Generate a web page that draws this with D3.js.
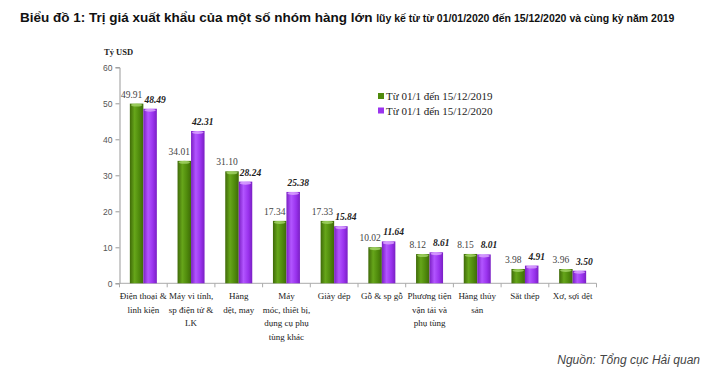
<!DOCTYPE html>
<html><head><meta charset="utf-8">
<script src="https://cdn.jsdelivr.net/npm/d3@7"></script>
<style>body{margin:0;background:#fff}svg{display:block}</style>
</head><body><svg id="c" width="708" height="386"></svg>
<script>
const categories = [
  ["Điện thoại &","linh kiện"],
  ["Máy vi tính,","sp điện tử &","LK"],
  ["Hàng","dệt, may"],
  ["Máy","móc, thiết bị,","dụng cụ phụ","tùng khác"],
  ["Giày dép"],
  ["Gỗ & sp gỗ"],
  ["Phương tiện","vận tải và","phụ tùng"],
  ["Hàng thủy","sản"],
  ["Sắt thép"],
  ["Xơ, sợi dệt"]
];
const values2019 = [49.91,34.01,31.10,17.34,17.33,10.02,8.12,8.15,3.98,3.96];
const values2020 = [48.49,42.31,28.24,25.38,15.84,11.64,8.61,8.01,4.91,3.50];
const seriesNames = ["Từ 01/1 đến 15/12/2019","Từ 01/1 đến 15/12/2020"];
const yTicks = [0,10,20,30,40,50,60];

const svg = d3.select("#c");
const defs = svg.append("defs");
function grad(id, dark, mid, light){
  const g = defs.append("linearGradient").attr("id",id).attr("x1","0").attr("x2","1").attr("y1","0").attr("y2","0");
  g.append("stop").attr("offset","0%").attr("stop-color",dark);
  g.append("stop").attr("offset","35%").attr("stop-color",light);
  g.append("stop").attr("offset","70%").attr("stop-color",mid);
  g.append("stop").attr("offset","100%").attr("stop-color",dark);
}
grad("gG","#3f6a08","#4f8a0c","#66a61a");
grad("gP","#7a1fc4","#9a33ee","#b255ff");

// title
const t = svg.append("text").attr("x",20).attr("y",22).attr("font-family","Liberation Sans, Arial, sans-serif").attr("font-weight","bold").attr("fill","#111");
t.append("tspan").attr("font-size","13.5px").text("Biểu đồ 1: Trị giá xuất khẩu của một số nhóm hàng lớn ");
t.append("tspan").attr("font-size","10.5px").text("lũy kế từ từ 01/01/2020 đến 15/12/2020 và cùng kỳ năm 2019");

svg.append("text").attr("x",700).attr("y",364).attr("text-anchor","end")
  .attr("font-family","Liberation Sans, Arial, sans-serif").attr("font-style","italic")
  .attr("font-size","12px").attr("fill","#444").text("Nguồn: Tổng cục Hải quan");

const x0 = 119.5, x1 = 596.5, yTop = 67.3, yBot = 283.3;
const x = d3.scaleBand().domain(d3.range(categories.length)).range([x0,x1]).paddingInner(0).paddingOuter(0);
const y = d3.scaleLinear().domain([0,60]).range([yBot,yTop]);
const bw = 13.5;

// y axis
const ya = svg.append("g").attr("transform",`translate(${x0},0)`)
  .call(d3.axisLeft(y).tickValues(yTicks).tickSize(4).tickPadding(3).tickFormat(d3.format("d")));
ya.select(".domain").attr("stroke","#999");
ya.selectAll(".tick line").attr("stroke","#999");
ya.selectAll("text").attr("font-family","Liberation Sans, Arial, sans-serif").attr("font-size","8.5px").attr("fill","#555");

// x axis
const xa = svg.append("g").attr("transform",`translate(0,${yBot})`);
xa.append("line").attr("x1",x0).attr("x2",x1).attr("stroke","#aaa");
xa.selectAll(".tk").data(d3.range(categories.length+1)).join("line")
  .attr("x1",d=>x0+d*x.bandwidth()).attr("x2",d=>x0+d*x.bandwidth()).attr("y1",0).attr("y2",4).attr("stroke","#aaa");

// category labels
categories.forEach((lines,i)=>{
  const tx = svg.append("text").attr("text-anchor","middle").attr("font-family","Liberation Serif, Times New Roman, serif")
    .attr("font-size","9px").attr("fill","#222");
  lines.forEach((l,j)=>{
    tx.append("tspan").attr("x",x(i)+x.bandwidth()/2).attr("y",yBot+16+j*13.5).text(l);
  });
});

// bars
function drawBars(vals, offset, fill, top){
  const g = svg.append("g");
  g.selectAll("rect").data(vals).join("rect")
    .attr("x",(d,i)=>x(i)+x.bandwidth()/2+offset).attr("width",bw)
    .attr("y",d=>y(d)).attr("height",d=>yBot-y(d)).attr("fill",fill);
  g.selectAll("ellipse").data(vals).join("ellipse")
    .attr("cx",(d,i)=>x(i)+x.bandwidth()/2+offset+bw/2).attr("cy",d=>y(d)+1.5)
    .attr("rx",bw/2-1).attr("ry",1.5).attr("fill",top).attr("opacity",0.8);
}
drawBars(values2019,-bw,"url(#gG)","#a6d66a");
drawBars(values2020,0,"url(#gP)","#dca8ff");

// value labels
svg.append("g").selectAll("text").data(values2019).join("text")
  .attr("x",(d,i)=>x(i)+x.bandwidth()/2-bw/2-5).attr("y",d=>y(d)-6)
  .attr("text-anchor","middle").attr("font-family","Liberation Serif, Times New Roman, serif")
  .attr("font-size","9.5px").attr("fill","#444").text(d=>d.toFixed(2));
svg.append("g").selectAll("text").data(values2020).join("text")
  .attr("x",(d,i)=>x(i)+x.bandwidth()/2+bw/2+5).attr("y",d=>y(d)-6)
  .attr("text-anchor","middle").attr("font-family","Liberation Serif, Times New Roman, serif")
  .attr("font-size","9.5px").attr("font-weight","bold").attr("font-style","italic").attr("fill","#222").text(d=>d.toFixed(2));

// unit label
svg.append("text").attr("x",104).attr("y",55).attr("font-family","Liberation Serif, Times New Roman, serif")
  .attr("font-size","8.5px").attr("font-weight","bold").attr("fill","#222").text("Tỷ USD");

// legend
const lg = svg.append("g");
const lc = ["#4f8a0c","#9a33ee"];
seriesNames.forEach((n,i)=>{
  lg.append("rect").attr("x",378).attr("y",93+i*14.5).attr("width",6).attr("height",6).attr("fill",lc[i]);
  lg.append("text").attr("x",386).attr("y",100+i*14.5).attr("font-family","Liberation Serif, Times New Roman, serif")
    .attr("font-size","11px").attr("fill","#222").text(n);
});
</script></body></html>
